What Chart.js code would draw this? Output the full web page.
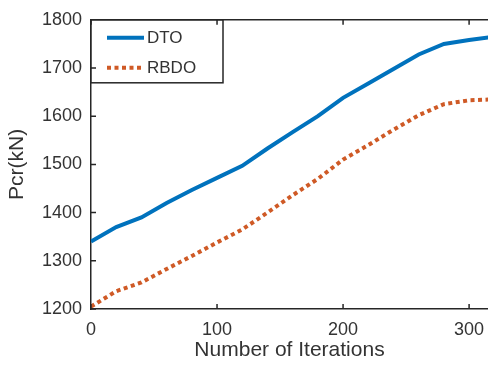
<!DOCTYPE html>
<html>
<head>
<meta charset="utf-8">
<script src="https://cdn.jsdelivr.net/npm/chart.js@4/dist/chart.umd.min.js"></script>
<style>
  html, body { margin: 0; padding: 0; background: #fff; }
  canvas { display: block; }
</style>
</head>
<body>
<canvas id="chart" width="488" height="367"></canvas>
<script>
// values (curve cut off on the right)
const iterations = [0, 20, 40, 60, 80, 100, 120, 140, 160, 180, 200, 220, 240, 260, 280, 300, 320];
const dto  = [1340, 1370, 1390, 1420, 1447, 1472, 1497, 1533, 1567, 1600, 1638, 1668, 1698, 1728, 1750, 1758, 1765];
const rbdo = [1205, 1237, 1255, 1283, 1310, 1338, 1365, 1400, 1436, 1470, 1510, 1540, 1572, 1602, 1625, 1633, 1635];
const seriesNames = ["DTO", "RBDO"];
const xTicks = [0, 100, 200, 300];
const yTicks = [1200, 1300, 1400, 1500, 1600, 1700, 1800];

const axisColor = "#262626";
const textColor = "#333333";
const fontFamily = "'Liberation Sans', Arial, Helvetica, sans-serif";

const toPoints = vals => iterations.map((x, i) => ({ x: x, y: vals[i] }));

// inward ticks + top border line, like the matlab box
const axisBox = {
  id: "axisBox",
  afterDraw(chart) {
    const ctx = chart.ctx;
    const a = chart.chartArea;
    const xs = chart.scales.x, ys = chart.scales.y;
    ctx.save();
    ctx.strokeStyle = axisColor;
    ctx.lineWidth = 1.5;
    ctx.beginPath();
    ctx.moveTo(a.left, a.top);
    ctx.lineTo(a.right, a.top);
    xTicks.forEach(v => {
      const px = xs.getPixelForValue(v);
      ctx.moveTo(px, a.bottom); ctx.lineTo(px, a.bottom - 5);
      ctx.moveTo(px, a.top); ctx.lineTo(px, a.top + 5);
    });
    yTicks.forEach(v => {
      const py = ys.getPixelForValue(v);
      ctx.moveTo(a.left, py); ctx.lineTo(a.left + 5, py);
    });
    ctx.stroke();
    ctx.restore();
  }
};

// boxed legend in the top left corner
const boxLegend = {
  id: "boxLegend",
  afterDatasetsDraw(chart) {
    const ctx = chart.ctx;
    const a = chart.chartArea;
    const w = 132, h = 63;
    ctx.save();
    ctx.fillStyle = "#fff";
    ctx.fillRect(a.left, a.top, w, h);
    ctx.strokeStyle = axisColor;
    ctx.lineWidth = 1.5;
    ctx.strokeRect(a.left, a.top, w, h);
    ctx.font = "17px " + fontFamily;
    ctx.textBaseline = "middle";
    chart.data.datasets.forEach((ds, i) => {
      const y = a.top + 18 + i * 30;
      ctx.strokeStyle = ds.borderColor;
      ctx.lineWidth = ds.borderWidth;
      ctx.setLineDash(ds.borderDash || []);
      ctx.beginPath();
      ctx.moveTo(a.left + 16, y);
      ctx.lineTo(a.left + 53, y);
      ctx.stroke();
      ctx.setLineDash([]);
      ctx.fillStyle = textColor;
      ctx.fillText(ds.label, a.left + 56, y + 1);
    });
    ctx.restore();
  }
};

new Chart(document.getElementById("chart"), {
  type: "line",
  data: {
    datasets: [
      {
        label: seriesNames[0],
        data: toPoints(dto),
        borderColor: "#0072BD",
        borderWidth: 4,
        pointRadius: 0,
        tension: 0
      },
      {
        label: seriesNames[1],
        data: toPoints(rbdo),
        borderColor: "#CF5A26",
        borderWidth: 4,
        borderDash: [4, 3.5],
        borderCapStyle: "butt",
        pointRadius: 0,
        tension: 0
      }
    ]
  },
  options: {
    responsive: false,
    animation: false,
    devicePixelRatio: 1,
    layout: { padding: { top: 17, right: 0, left: 0, bottom: 0 } },
    plugins: {
      legend: { display: false },
      tooltip: { enabled: false }
    },
    scales: {
      x: {
        type: "linear",
        min: 0,
        max: 315,
        grid: { display: false, drawTicks: false },
        border: { color: axisColor, width: 1.5 },
        afterBuildTicks: s => { s.ticks = xTicks.map(v => ({ value: v })); },
        afterFit: s => { s.height = 58; s.paddingRight = 0; s.paddingLeft = 0; },
        ticks: {
          padding: 10,
          color: textColor,
          font: { size: 18, family: fontFamily },
          maxRotation: 0,
          callback: v => String(v)
        },
        title: {
          display: true,
          text: "Number of Iterations",
          color: textColor,
          font: { size: 21, family: fontFamily },
          padding: { top: 0, bottom: 4 }
        }
      },
      y: {
        min: 1200,
        max: 1800,
        grid: { display: false, drawTicks: false },
        border: { color: axisColor, width: 1.5 },
        afterBuildTicks: s => { s.ticks = yTicks.map(v => ({ value: v })); },
        afterFit: s => { s.width = 91; },
        ticks: {
          padding: 9,
          color: textColor,
          font: { size: 18, family: fontFamily },
          callback: v => String(v)
        },
        title: {
          display: true,
          text: "Pcr(kN)",
          color: textColor,
          font: { size: 21, family: fontFamily },
          padding: { top: 5, bottom: 0 }
        }
      }
    }
  },
  plugins: [axisBox, boxLegend]
});
</script>
</body>
</html>
